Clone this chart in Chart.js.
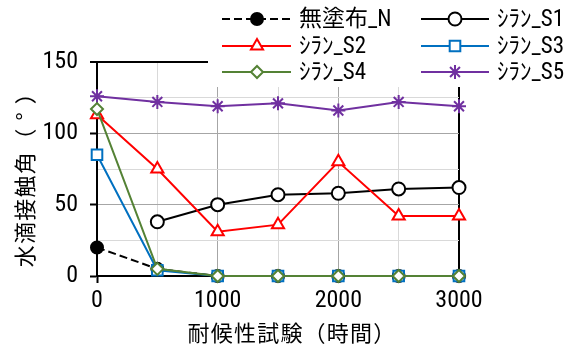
<!DOCTYPE html>
<html lang="ja">
<head>
<meta charset="utf-8">
<title>水滴接触角の推移</title>
<script src="https://cdn.jsdelivr.net/npm/chart.js@4/dist/chart.umd.min.js"></script>
<style>
  html, body { margin: 0; padding: 0; background: #ffffff; }
  #wrap { width: 576px; height: 347px; position: relative; }
</style>
</head>
<body>
<div id="wrap"><canvas id="chart" width="576" height="347"></canvas></div>
<script>
// Weathering test duration (hours)
const hours = [0, 500, 1000, 1500, 2000, 2500, 3000];

// Water contact angle (degrees) for each coating
const uncoatedN = [20, 5, 0, 0, 0, 0, 0];
const silaneS1  = [null, 38, 50, 57, 58, 61, 62];
const silaneS2  = [113, 75, 31, 36, 80, 42, 42];
const silaneS3  = [85, 4, 0, 0, 0, 0, 0];
const silaneS4  = [117, 5, 0, 0, 0, 0, 0];
const silaneS5  = [126, 122, 119, 121, 116, 122, 119];

const seriesNames = ['無塗布_N', 'ｼﾗﾝ_S1', 'ｼﾗﾝ_S2', 'ｼﾗﾝ_S3', 'ｼﾗﾝ_S4', 'ｼﾗﾝ_S5'];

const xTicks = [0, 1000, 2000, 3000];
const yTicks = [0, 50, 100, 150];

const xTitle = '耐候性試験（時間）';
const yTitle = '水滴接触角（°）';

const CJK = '"Noto Sans CJK JP", "Noto Sans", sans-serif';
const NARROW = '"Liberation Sans Narrow", "Roboto Condensed", "Liberation Sans", ' + CJK;

const toPoints = vals => hours.map((h, i) => ({ x: h, y: vals[i] }));

const datasets = [
  { label: seriesNames[0], data: toPoints(uncoatedN), borderColor: '#000000', borderDash: [8, 4],
    pointStyle: 'circle', pointRadius: 6, pointBackgroundColor: '#000000', pointBorderColor: '#000000', order: 5 },
  { label: seriesNames[1], data: toPoints(silaneS1), borderColor: '#000000',
    pointStyle: 'circle', pointRadius: 6.5, pointBackgroundColor: '#ffffff', pointBorderColor: '#000000', order: 3 },
  { label: seriesNames[2], data: toPoints(silaneS2), borderColor: '#ff0000',
    pointStyle: 'triangle', pointRadius: 7, pointBackgroundColor: '#ffffff', pointBorderColor: '#ff0000', order: 2 },
  { label: seriesNames[3], data: toPoints(silaneS3), borderColor: '#0070c0',
    pointStyle: 'rect', pointRadius: 7.5, pointBackgroundColor: '#ffffff', pointBorderColor: '#0070c0', order: 1 },
  { label: seriesNames[4], data: toPoints(silaneS4), borderColor: '#548235',
    pointStyle: 'rectRot', pointRadius: 6, pointBackgroundColor: '#ffffff', pointBorderColor: '#548235', order: 0 },
  { label: seriesNames[5], data: toPoints(silaneS5), borderColor: '#7030a0',
    pointStyle: 'star', pointRadius: 7, pointBackgroundColor: '#7030a0', pointBorderColor: '#7030a0', order: 4 }
];
datasets.forEach(d => {
  d.borderWidth = 2;
  d.pointBorderWidth = 2;
  d.pointHoverRadius = d.pointRadius;
  d.tension = 0;
  d.fill = false;
  d.clip = false;
});

// Legend layout: two columns, three rows, drawn on a white panel over the top of the plot
const legendSlots = [
  { col: 0, row: 0 }, { col: 1, row: 0 },
  { col: 0, row: 1 }, { col: 1, row: 1 },
  { col: 0, row: 2 }, { col: 1, row: 2 }
];
const legendCols = [
  { x0: 222, x1: 291, mx: 257, tx: 299 },
  { x0: 421, x1: 489, mx: 455, tx: 497 }
];
const legendRows = [19, 46, 72];

function drawMarker(ctx, ds, x, y) {
  ctx.save();
  ctx.fillStyle = ds.pointBackgroundColor;
  ctx.strokeStyle = ds.pointBorderColor;
  ctx.lineWidth = ds.pointBorderWidth;
  ctx.setLineDash([]);
  if (Chart.helpers && Chart.helpers.drawPoint) {
    Chart.helpers.drawPoint(ctx, {
      pointStyle: ds.pointStyle, radius: ds.pointRadius, rotation: 0, borderWidth: ds.pointBorderWidth
    }, x, y);
  } else {
    ctx.beginPath();
    ctx.arc(x, y, ds.pointRadius, 0, Math.PI * 2);
    ctx.fill();
    ctx.stroke();
  }
  ctx.restore();
}

// Writes a full-width title one character per fixed-pitch cell, so brackets keep their full cell
function drawCells(ctx, text, start, pitch) {
  const em = parseFloat(ctx.font);
  [...text].forEach((ch, i) => {
    const left = start + i * pitch;
    const w = ctx.measureText(ch).width;
    let x;
    if (ch === '（') x = left + pitch - w - (pitch - em) / 2;
    else if (ch === '）') x = left + (pitch - em) / 2;
    else x = left + (pitch - w) / 2;
    ctx.fillText(ch, x, 0);
  });
}

const axisTitles = {
  id: 'axisTitles',
  afterDraw(chart) {
    const ctx = chart.ctx;
    ctx.save();
    ctx.fillStyle = '#000000';
    ctx.font = '22px ' + CJK;
    ctx.textAlign = 'left';
    ctx.textBaseline = 'middle';
    // x title
    ctx.save();
    ctx.translate(0, 333);
    drawCells(ctx, xTitle, 187, 23.2);
    ctx.restore();
    // y title, reading bottom to top
    ctx.save();
    ctx.translate(25, 268);
    ctx.rotate(-Math.PI / 2);
    drawCells(ctx, yTitle, 0, 23.3);
    ctx.restore();
    ctx.restore();
  }
};

const panelLegend = {
  id: 'panelLegend',
  afterDraw(chart) {
    const ctx = chart.ctx;
    ctx.save();
    ctx.fillStyle = '#ffffff';
    ctx.fillRect(208, 0, 576 - 208, 87);
    chart.data.datasets.forEach((ds, i) => {
      const c = legendCols[legendSlots[i].col];
      const y = legendRows[legendSlots[i].row];
      ctx.save();
      ctx.strokeStyle = ds.borderColor;
      ctx.lineWidth = ds.borderWidth;
      ctx.setLineDash(ds.borderDash || []);
      ctx.beginPath();
      ctx.moveTo(c.x0, y);
      ctx.lineTo(c.x1, y);
      ctx.stroke();
      ctx.restore();
      drawMarker(ctx, ds, c.mx, y);
      ctx.fillStyle = '#000000';
      ctx.font = '23px ' + NARROW;
      ctx.textAlign = 'left';
      ctx.textBaseline = 'middle';
      ctx.fillText(ds.label, c.tx, y + 1);
    });
    ctx.restore();
  }
};

const gridColor = (v, edge) => {
  if (v === edge) return '#000000';
  if (v % (edge / 3) === 0) return '#a6a6a6';
  return '#d9d9d9';
};

new Chart(document.getElementById('chart'), {
  type: 'line',
  data: { datasets },
  options: {
    responsive: false,
    animation: false,
    devicePixelRatio: 1,
    layout: { padding: { left: 0, top: 62, right: 117, bottom: 0 } },
    plugins: { legend: { display: false }, tooltip: { enabled: false } },
    scales: {
      x: {
        type: 'linear',
        min: 0,
        max: 3000,
        afterFit: s => { s.height = 71; },
        afterBuildTicks: s => { s.ticks = hours.map(v => ({ value: v })); },
        ticks: {
          autoSkip: false,
          maxRotation: 0,
          padding: 4,
          color: '#000000',
          font: { family: NARROW, size: 24 },
          callback: v => (xTicks.includes(v) ? String(v) : '')
        },
        grid: {
          color: c => gridColor(c.tick.value, 3000),
          lineWidth: c => (c.tick.value === 3000 ? 2 : 1),
          tickLength: 7,
          tickColor: c => (c.tick.value === 0 ? '#000000' : 'rgba(0,0,0,0)'),
          tickWidth: 2
        },
        border: { color: '#000000', width: 2 },
        title: { display: false }
      },
      y: {
        min: 0,
        max: 150,
        afterFit: s => { s.width = 97; },
        afterBuildTicks: s => {
          const t = [];
          for (let v = 0; v <= 150; v += 25) t.push({ value: v });
          s.ticks = t;
        },
        ticks: {
          autoSkip: false,
          padding: 12,
          color: '#000000',
          font: { family: NARROW, size: 24 },
          callback: v => (yTicks.includes(v) ? String(v) : '')
        },
        grid: {
          color: c => gridColor(c.tick.value, 150),
          lineWidth: c => (c.tick.value === 150 ? 2 : 1),
          tickLength: 7,
          tickColor: c => (c.tick.value % 50 === 0 ? '#000000' : 'rgba(0,0,0,0)'),
          tickWidth: 2
        },
        border: { color: '#000000', width: 2 },
        title: { display: false }
      }
    }
  },
  plugins: [axisTitles, panelLegend]
});
</script>
</body>
</html>
